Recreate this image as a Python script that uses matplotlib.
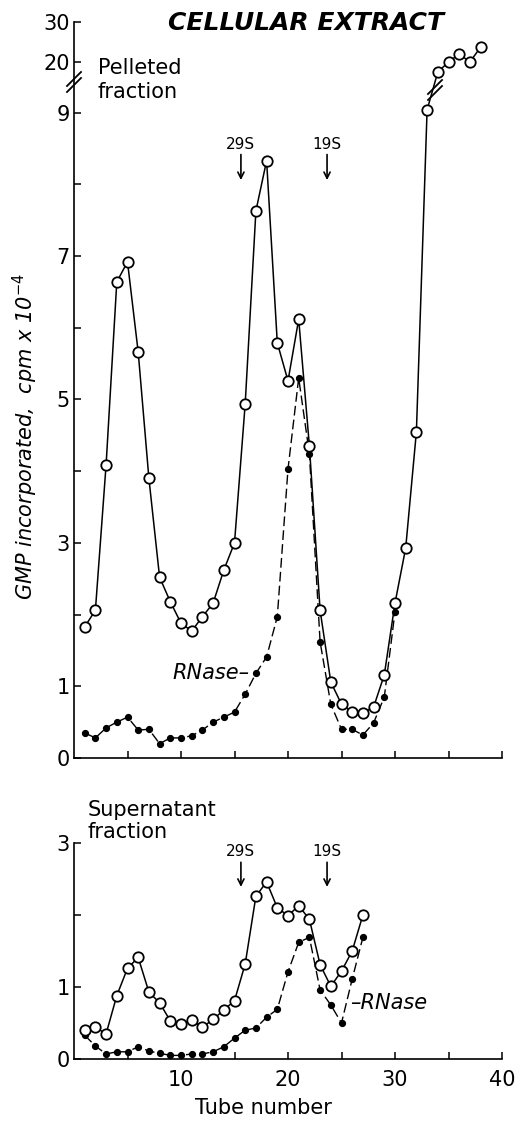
import matplotlib
matplotlib.use("Agg")
import matplotlib.pyplot as plt
import numpy as np

# -------------------------
# Data
# -------------------------
tubes_pellet = np.arange(1, 39)
pellet_open = [1.83, 2.06, 4.09, 6.64, 6.92, 5.66, 3.90, 2.52, 2.18, 1.88,
               1.77, 1.97, 2.16, 2.62, 3.00, 4.94, 7.63, 8.33, 5.79, 5.26,
               6.12, 4.35, 2.06, 1.06, 0.75, 0.64, 0.63, 0.71, 1.16, 2.16,
               2.93, 4.55, 9.04, 17.5, 20.0, 22.0, 20.0, 23.7]

tubes_pellet_rnase = np.arange(1, 31)
pellet_rnase = [0.35, 0.28, 0.42, 0.50, 0.57, 0.39, 0.40, 0.20, 0.28, 0.28,
                0.31, 0.39, 0.50, 0.57, 0.64, 0.89, 1.18, 1.41, 1.97, 4.03,
                5.30, 4.24, 1.62, 0.75, 0.40, 0.40, 0.32, 0.49, 0.85, 2.04]

tubes_super = np.arange(1, 28)
super_open = [0.40, 0.44, 0.35, 0.88, 1.26, 1.41, 0.93, 0.78, 0.53, 0.48,
              0.54, 0.44, 0.55, 0.68, 0.81, 1.32, 2.26, 2.46, 2.10, 1.99,
              2.13, 1.94, 1.31, 1.01, 1.22, 1.50, 2.00]
super_rnase = [0.33, 0.18, 0.07, 0.10, 0.10, 0.17, 0.11, 0.08, 0.05, 0.05,
               0.07, 0.07, 0.10, 0.17, 0.29, 0.40, 0.43, 0.58, 0.69, 1.21,
               1.62, 1.69, 0.96, 0.75, 0.50, 1.11, 1.69]

markers_29S_19S = [15.6, 23.65]
top_yticks = [0, 1, 3, 5, 7, 9, 20, 30]
top_yminor = [2, 4, 6, 8]

# -------------------------
# Broken y scale for the upper panel (linear up to 9.4, compressed above)
# -------------------------
B, T = 9.4, 15.0
K = 4.0 / 71.7
UB = 9.707 + (T - 20) * K
S_MID = (UB - B) / (T - B)


def fwd(y):
    y = np.asarray(y, dtype=float)
    return np.where(y <= B, y,
                    np.where(y <= T, B + (y - B) * S_MID, UB + (y - T) * K))


def inv(u):
    u = np.asarray(u, dtype=float)
    return np.where(u <= B, u,
                    np.where(u <= UB, B + (u - B) / S_MID, T + (u - UB) / K))


plt.rcParams["font.family"] = "DejaVu Sans"

fig = plt.figure(figsize=(5.19, 11.21), dpi=100)
W, H = 519.0, 1121.0

ax1 = fig.add_axes([74 / W, (H - 758) / H, 428 / W, (758 - 22) / H])
ax2 = fig.add_axes([74 / W, (H - 1059) / H, 428 / W, (1059 - 843) / H])

open_kw = dict(color="black", lw=1.1, marker="o", ms=7.5, mfc="white",
               mec="black", mew=1.3, zorder=3)
dot_kw = dict(color="black", lw=1.0, ls=(0, (7, 3)), marker="o", ms=4.2,
              mfc="black", mec="black", zorder=2)

# top panel
ax1.set_yscale("function", functions=(fwd, inv))
ax1.plot(tubes_pellet_rnase, pellet_rnase, **dot_kw)
ax1.plot(tubes_pellet, pellet_open, **open_kw)
ax1.set_ylim(0, 30)
ax1.set_yticks(top_yticks)
ax1.set_yticks(top_yminor, minor=True)
ax1.set_yticklabels([str(t) for t in top_yticks])

# bottom panel
ax2.plot(tubes_super, super_rnase, **dot_kw)
ax2.plot(tubes_super, super_open, **open_kw)
ax2.set_ylim(0, 3)
ax2.set_yticks([0, 1, 3])
ax2.set_yticks([2], minor=True)

for ax in (ax1, ax2):
    ax.set_xlim(0, 40)
    ax.set_xticks([10, 20, 30, 40])
    ax.set_xticks([5, 15, 25, 35], minor=True)
    for s in ("top", "right"):
        ax.spines[s].set_visible(False)
    for s in ("left", "bottom"):
        ax.spines[s].set_linewidth(1.2)
    ax.tick_params(which="both", direction="in", length=5, width=1.1,
                   labelsize=15, pad=3)
    ax.tick_params(axis="x", which="both", pad=8)
    ax.patch.set_alpha(0)

ax1.tick_params(axis="x", labelbottom=False)

# break marks on the axis and on the curve
for xc, yc in [(74, 82), (435, 90)]:
    for dy in (-3, 3):
        x0, y0 = xc - 7, (yc + dy) + 7
        x1, y1 = xc + 7, (yc + dy) - 7
        fig.add_artist(plt.Line2D([x0 / W, x1 / W], [1 - y0 / H, 1 - y1 / H],
                                  color="black", lw=1.3, zorder=5))

# sedimentation markers
for ax, ytxt, ytip in [(ax1, 8.56, 8.06), (ax2, 2.875, 2.39)]:
    for xm, lab in zip(markers_29S_19S, ["29S", "19S"]):
        ax.annotate(lab, xy=(xm, ytip), xytext=(xm, ytxt), ha="center",
                    va="center", fontsize=11,
                    arrowprops=dict(arrowstyle="->", lw=1.2, color="black",
                                    shrinkA=0, shrinkB=0))

ax1.text(16.45, 1.19, "RNase\u2013", ha="right", va="center", fontsize=15,
         style="italic")
ax2.text(25.8, 0.78, "\u2013RNase", ha="left", va="center", fontsize=15,
         style="italic")

fig.text(98 / W, 1 - 80 / H, "Pelleted\nfraction", ha="left", va="center",
         fontsize=15, linespacing=1.25)
fig.text(88 / W, 1 - 821 / H, "Supernatant\nfraction", ha="left",
         va="center", fontsize=15, linespacing=1.15)

fig.text(306 / W, 1 - 23 / H, "CELLULAR EXTRACT", ha="center", va="center",
         fontsize=18, fontweight="bold", style="italic")
fig.text(25 / W, 1 - 437 / H, r"GMP incorporated,  cpm x 10$^{-4}$",
         rotation=90, ha="center", va="center", fontsize=15, style="italic")
fig.text(263 / W, 1 - 1108 / H, "Tube number", ha="center", va="center",
         fontsize=15)

fig.savefig("out.png", dpi=100)
